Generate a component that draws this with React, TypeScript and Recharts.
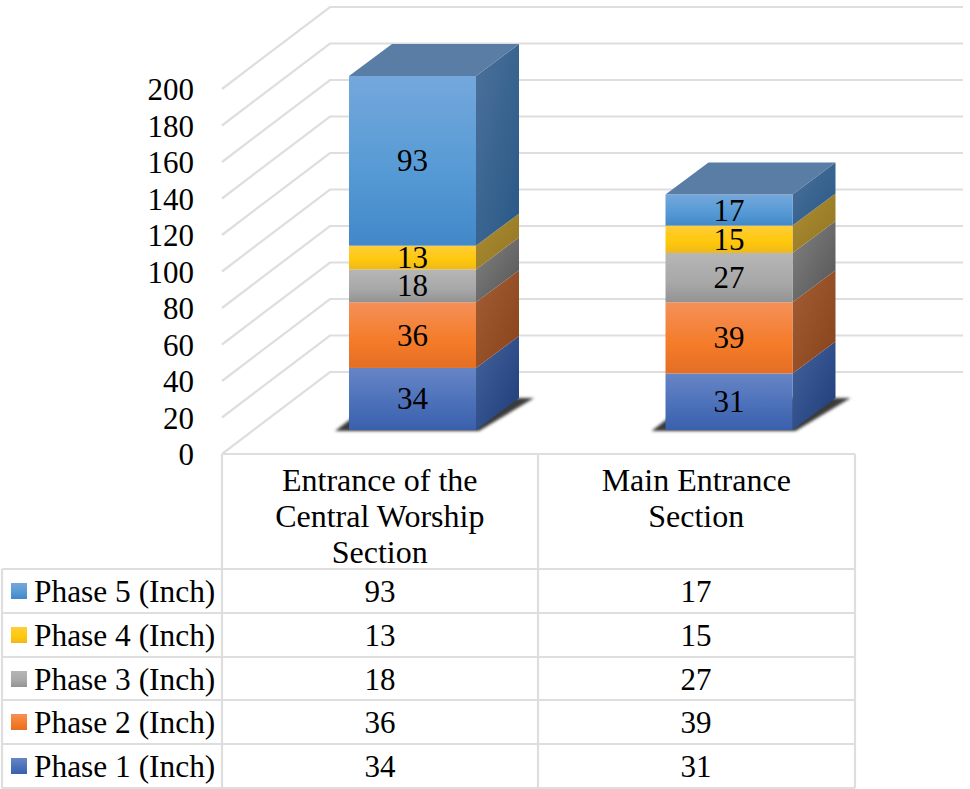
import { BarChart, Bar, XAxis, YAxis, CartesianGrid, LabelList } from 'recharts'

const categories = ['Entrance of the Central Worship Section', 'Main Entrance Section']
const categoryLines = [
  ['Entrance of the', 'Central Worship', 'Section'],
  ['Main Entrance', 'Section'],
]
const seriesNames = ['Phase 1 (Inch)', 'Phase 2 (Inch)', 'Phase 3 (Inch)', 'Phase 4 (Inch)', 'Phase 5 (Inch)']
const phase1 = [34, 31]
const phase2 = [36, 39]
const phase3 = [18, 27]
const phase4 = [13, 15]
const phase5 = [93, 17]
const seriesValues = [phase1, phase2, phase3, phase4, phase5]
const yTicks = [0, 20, 40, 60, 80, 100, 120, 140, 160, 180, 200]

// light / mid / dark stops of the front face, then the two of the side face
const frontColors = [
  ['#6785c6', '#4a6fb8', '#3a60ad'],
  ['#f59059', '#f47b28', '#e36e25'],
  ['#b6b6b6', '#a8a8a8', '#939393'],
  ['#ffcd3a', '#ffc80a', '#edb81e'],
  ['#74a8dc', '#5499d4', '#4288c8'],
]
const sideColors = [
  ['#44629a', '#1e3c7a'],
  ['#a45e34', '#88421b'],
  ['#828282', '#545454'],
  ['#ab8e35', '#937420'],
  ['#4c719b', '#285886'],
]

const chartData = categories.map((name, i) => {
  const row: Record<string, string | number> = { name }
  seriesNames.forEach((s, j) => {
    row[s] = seriesValues[j][i]
  })
  return row
})

const FONT = '"Liberation Serif", serif'
const FONT_SIZE = 31
const GRID = '#dedede'
const GRID_WIDTH = 2.2

// wall / floor projection of the fake 3D box
const WALL_DX = 108
const WALL_DY = 82
const BAR_DX = 32
const BAR_DY = 24
const DEPTH_X = 43
const DEPTH_Y = 32

function Gradients({ prefix }: { prefix: string }) {
  return (
    <defs>
      {frontColors.map((c, i) => (
        <linearGradient key={i} id={`${prefix}front${i}`} x1="0" y1="0" x2="0" y2="1">
          <stop offset="0%" stopColor={c[0]} />
          <stop offset="60%" stopColor={c[1]} />
          <stop offset="100%" stopColor={c[2]} />
        </linearGradient>
      ))}
      {sideColors.map((c, i) => (
        <linearGradient key={i} id={`${prefix}side${i}`} x1="0" y1="0" x2="1" y2="1">
          <stop offset="0%" stopColor={c[0]} />
          <stop offset="100%" stopColor={c[1]} />
        </linearGradient>
      ))}
      <filter id={`${prefix}blur`} x="-20%" y="-20%" width="140%" height="140%">
        <feGaussianBlur stdDeviation="1.5" />
      </filter>
    </defs>
  )
}

function makeBlock(index: number) {
  return function Block(props: any) {
    const x = props.x + BAR_DX
    const y = props.y - BAR_DY
    const w = props.width
    const h = props.height
    const bottom = y + h
    return (
      <g>
        {index === 0 && (
          <polygon
            points={`${x - 14},${bottom + 1} ${x + DEPTH_X - 14},${bottom - DEPTH_Y} ${x + w + DEPTH_X + 15},${bottom - DEPTH_Y} ${x + w + 3},${bottom + 1}`}
            fill="#3a3a3a"
            filter="url(#cfblur)"
          />
        )}
        <polygon
          points={`${x + w},${y} ${x + w + DEPTH_X},${y - DEPTH_Y} ${x + w + DEPTH_X},${bottom - DEPTH_Y} ${x + w},${bottom}`}
          fill={`url(#cfside${index})`}
        />
        <rect x={x} y={y} width={w} height={h} fill={`url(#cffront${index})`} />
        {index === seriesNames.length - 1 && (
          <polygon
            points={`${x},${y} ${x + DEPTH_X},${y - DEPTH_Y} ${x + w + DEPTH_X},${y - DEPTH_Y} ${x + w},${y}`}
            fill="#5a7da6"
          />
        )}
      </g>
    )
  }
}

function segmentLabel(props: any) {
  const { x, y, width, height, value } = props
  return (
    <text
      x={x + width / 2 + BAR_DX}
      y={y + height / 2 - BAR_DY + 10.5}
      textAnchor="middle"
      fontFamily={FONT}
      fontSize={FONT_SIZE}
      fill="#000"
    >
      {value}
    </text>
  )
}

function wallLine(props: any) {
  const { x1, x2, y1 } = props
  return (
    <path
      key={`wall-${y1}`}
      d={`M${x1},${y1} L${x1 + WALL_DX},${y1 - WALL_DY} L${x2 + WALL_DX},${y1 - WALL_DY}`}
      fill="none"
      stroke={GRID}
      strokeWidth={GRID_WIDTH}
    />
  )
}

function CategoryTick(props: any) {
  const { x, index } = props
  return (
    <text textAnchor="middle" fontFamily={FONT} fontSize={32} fill="#000">
      {categoryLines[index].map((line, i) => (
        <tspan key={line} x={x - 0.5} y={491 + i * 36}>
          {line}
        </tspan>
      ))}
    </text>
  )
}

const rowLines = [569, 613, 657, 700, 744, 788]
const tableLeft = 2
const colLines = [222, 538, 855]
const tableTop = 454
const colCenters = [380, 696]

function DataTable() {
  // legend order in the table is reversed: Phase 5 on top
  const rows = seriesNames.map((_, i) => seriesNames.length - 1 - i)
  return (
    <svg width={970} height={789} style={{ position: 'absolute', left: 0, top: 0, pointerEvents: 'none' }}>
      <Gradients prefix="tb" />
      <g stroke={GRID} strokeWidth={GRID_WIDTH}>
        <line x1={colLines[0]} x2={colLines[2]} y1={tableTop} y2={tableTop} />
        {rowLines.map((y) => (
          <line key={y} x1={tableLeft} x2={colLines[2]} y1={y} y2={y} />
        ))}
        {colLines.map((x) => (
          <line key={x} x1={x} x2={x} y1={tableTop} y2={rowLines[5]} />
        ))}
        <line x1={tableLeft} x2={tableLeft} y1={rowLines[0]} y2={rowLines[5]} />
      </g>
      {rows.map((s, r) => {
        const top = rowLines[r]
        return (
          <g key={s} fontFamily={FONT} fontSize={FONT_SIZE} fill="#000">
            <rect x={11} y={top + 14} width={16} height={16} fill={`url(#tbfront${s})`} />
            <text x={34} y={top + 32.5} fontSize={31.4}>
              {seriesNames[s]}
            </text>
            {colCenters.map((cx, c) => (
              <text key={cx} x={cx} y={top + 32.5} textAnchor="middle">
                {seriesValues[s][c]}
              </text>
            ))}
          </g>
        )
      })}
    </svg>
  )
}

export default function App() {
  return (
    <div style={{ position: 'absolute', left: 0, top: 0, width: 970, height: 789, background: '#fff' }}>
      <BarChart
        width={970}
        height={789}
        data={chartData}
        margin={{ top: 89, right: 115, bottom: 215, left: 102 }}
      >
        <Gradients prefix="cf" />
        <CartesianGrid vertical={false} horizontal={wallLine} />
        <XAxis
          dataKey="name"
          height={120}
          interval={0}
          axisLine={false}
          tickLine={false}
          tick={<CategoryTick />}
        />
        <YAxis
          width={120}
          domain={[0, 200]}
          ticks={yTicks}
          interval={0}
          axisLine={false}
          tickLine={false}
          tickSize={0}
          tickMargin={28}
          tick={{ fill: '#000', fontFamily: FONT, fontSize: FONT_SIZE }}
        />
        {seriesNames.map((s, i) => (
          <Bar
            key={s}
            dataKey={s}
            stackId="total"
            barSize={127}
            shape={makeBlock(i)}
            isAnimationActive={false}
          >
            <LabelList dataKey={s} content={segmentLabel} />
          </Bar>
        ))}
      </BarChart>
      <DataTable />
    </div>
  )
}
